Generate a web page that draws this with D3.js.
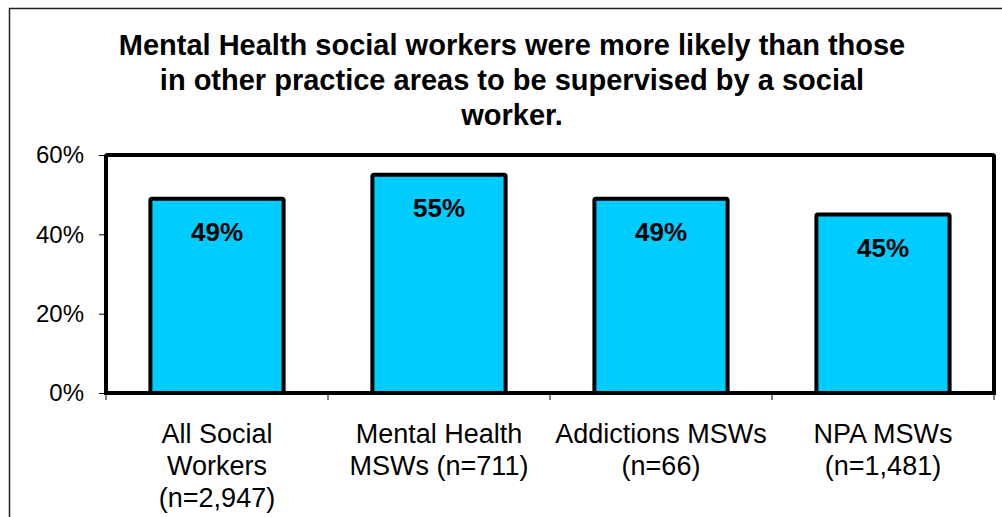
<!DOCTYPE html>
<html>
<head>
<meta charset="utf-8">
<script src="https://cdn.jsdelivr.net/npm/d3@7"></script>
<style>
  html, body { margin: 0; padding: 0; background: #fff; }
  svg { display: block; font-family: "Liberation Sans", Arial, sans-serif; }
</style>
</head>
<body>
<svg id="chart" width="1002" height="517"></svg>
<script>
// Share of social workers supervised by a social worker, by practice area
const categories = [
  ["All Social", "Workers", "(n=2,947)"],
  ["Mental Health", "MSWs (n=711)"],
  ["Addictions MSWs", "(n=66)"],
  ["NPA MSWs", "(n=1,481)"]
];
const values = [49, 55, 49, 45];
const yTicks = [0, 20, 40, 60];
const titleLines = [
  "Mental Health social workers were more likely than those",
  "in other practice areas to be supervised by a social",
  "worker."
];

const svg = d3.select("#chart");
const W = 1002, H = 517;
const plot = { left: 106, right: 994, top: 155, bottom: 393 };

// outer chart border
svg.append("rect")
  .attr("x", 9.5).attr("y", 8.5)
  .attr("width", W + 20).attr("height", H + 20)
  .attr("fill", "#fff").attr("stroke", "#222").attr("stroke-width", 1.5);

// title
svg.append("g").selectAll("text")
  .data(titleLines)
  .join("text")
  .attr("x", 512)
  .attr("y", (d, i) => 55 + i * 35)
  .attr("text-anchor", "middle")
  .attr("font-size", 29)
  .attr("font-weight", "bold")
  .text(d => d);

const x = d3.scaleBand()
  .domain(d3.range(categories.length))
  .range([plot.left, plot.right])
  .paddingInner(0.4)
  .paddingOuter(0.2);

const y = d3.scaleLinear()
  .domain([0, 60])
  .range([plot.bottom, plot.top]);

// plot area frame
svg.append("rect")
  .attr("x", plot.left).attr("y", plot.top)
  .attr("width", plot.right - plot.left)
  .attr("height", plot.bottom - plot.top)
  .attr("fill", "#fff")
  .attr("stroke", "#000").attr("stroke-width", 4)
  .attr("rx", 1.5);

// y axis
const yAxis = svg.append("g")
  .attr("transform", `translate(${plot.left},0)`)
  .call(d3.axisLeft(y).tickValues(yTicks).tickFormat(d => d + "%").tickSize(7).tickPadding(15));
yAxis.select(".domain").remove();
yAxis.selectAll("line").attr("stroke", "#000").attr("stroke-width", 1);
yAxis.selectAll("text")
  .attr("font-size", 24)
  .attr("font-family", "Liberation Sans, Arial, sans-serif")
  .attr("fill", "#000");

// category boundary ticks below the plot
const step = (plot.right - plot.left) / categories.length;
svg.append("g").selectAll("line")
  .data(d3.range(categories.length + 1))
  .join("line")
  .attr("x1", i => plot.left + i * step)
  .attr("x2", i => plot.left + i * step)
  .attr("y1", plot.bottom)
  .attr("y2", plot.bottom + 7)
  .attr("stroke", "#000").attr("stroke-width", 1);

// bars
svg.append("g").selectAll("rect")
  .data(values)
  .join("rect")
  .attr("x", (d, i) => x(i))
  .attr("y", d => y(d))
  .attr("width", x.bandwidth())
  .attr("height", d => y(0) - y(d))
  .attr("fill", "#00CCFF")
  .attr("stroke", "#000").attr("stroke-width", 4)
  .attr("rx", 1.5);

// redraw bottom edge of frame over bars
svg.append("line")
  .attr("x1", plot.left - 2).attr("x2", plot.right + 2)
  .attr("y1", plot.bottom).attr("y2", plot.bottom)
  .attr("stroke", "#000").attr("stroke-width", 4);

// value labels
svg.append("g").selectAll("text")
  .data(values)
  .join("text")
  .attr("x", (d, i) => x(i) + x.bandwidth() / 2)
  .attr("y", d => y(d) + 42)
  .attr("text-anchor", "middle")
  .attr("font-size", 26)
  .attr("font-weight", "bold")
  .text(d => d + "%");

// category labels
const catG = svg.append("g").selectAll("text")
  .data(categories)
  .join("text")
  .attr("text-anchor", "middle")
  .attr("font-size", 27);
catG.selectAll("tspan")
  .data((d, i) => d.map(line => ({ line, i })))
  .join("tspan")
  .attr("x", d => x(d.i) + x.bandwidth() / 2)
  .attr("y", (d, j) => 443 + j * 32)
  .text(d => d.line);
</script>
</body>
</html>
